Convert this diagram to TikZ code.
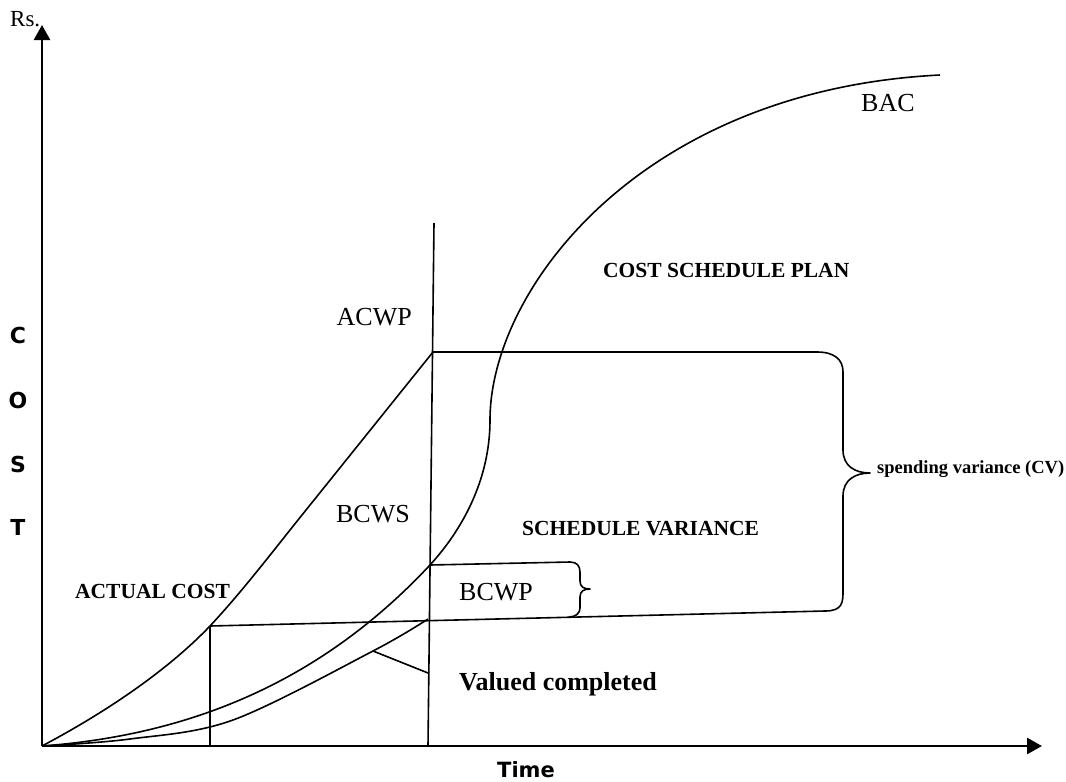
\documentclass[tikz,border=0pt]{standalone}
\usepackage{fontspec}
\setmainfont{Liberation Serif}
\newfontfamily\axfont{DejaVu Sans}
\usetikzlibrary{arrows.meta}
\begin{document}
\begin{tikzpicture}[x=1pt,y=-1pt, line join=round,
  curve/.style={line width=1.6pt},
  axisline/.style={line width=2.6pt, -{Triangle[length=15pt,width=16pt]}},
  lbl/.style={inner sep=0pt, font=\fontsize{26}{30}\selectfont},
  blbl/.style={inner sep=0pt, font=\fontsize{21.5}{25}\selectfont\bfseries},
  axlbl/.style={inner sep=0pt, font=\axfont\bfseries\fontsize{22}{26}\selectfont}]
\useasboundingbox (0,0) rectangle (1066,782);
% axes
\coordinate (O) at (42,746);
\coordinate (Ytip) at (42,25);
\coordinate (Xtip) at (1042,746);
\draw[axisline] (O) -- (Ytip);
\draw[axisline] (O) -- (Xtip);
% key points
\coordinate (Apk) at (433,352);
\coordinate (Lc) at (210,626);
\coordinate (Lb) at (210,746);
\coordinate (Vt) at (434,223);
\coordinate (Vb) at (428,746);
\coordinate (Ws) at (430,565);
\coordinate (Wp) at (428,619);
\coordinate (Pa) at (373,651);
\coordinate (Pb) at (428,673);
\coordinate (Sm) at (490,420);
\coordinate (Se) at (940,75);
% actual cost curve (ACWP)
\draw[curve] (O) .. controls (110,710) and (170,668) .. (Lc) .. controls (240,594) and (270,555) .. (298,520) -- (Apk);
% BCWS / BAC S-curve
\draw[curve] (O) .. controls (205,734) and (330,672) .. (Ws) .. controls (462,530) and (490,480) .. (Sm) .. controls (490,290) and (640,90) .. (Se);
% BCWP curve
\draw[curve] plot[smooth, tension=0.55] coordinates {(42,746) (130,739) (233,720) (373,651) (428,619)};
% vertical lines
\draw[curve] (Vt) -- (Vb);
\draw[curve] (Lc) -- (Lb);
% bottom line, big brace, top line
\draw[curve] (Lc) -- (825,611) .. controls (843,611) and (843,602) .. (843,590) -- (843,496) .. controls (843,480) and (855,473) .. (870,473) .. controls (855,473) and (843,466) .. (843,450) -- (843,372) .. controls (843,360) and (835,352) .. (817,352) -- (Apk);
% small brace
\draw[curve] (Ws) -- (570,562) .. controls (577,562) and (580,566) .. (580,572) -- (580,581) .. controls (580,587) and (584,589) .. (590,589) .. controls (584,589) and (580,591) .. (580,597) -- (580,608) .. controls (580,613) and (576,617) .. (569,617);
% pointer
\draw[curve] (Pa) -- (Pb);
% labels
\node[inner sep=0pt, anchor=base west, font=\fontsize{23}{26}\selectfont] (rs) at (10,26) {Rs.};
\node[axlbl] (c1) at (18,335) {C};
\node[axlbl] (c2) at (18,400) {O};
\node[axlbl] (c3) at (18,464) {S};
\node[axlbl] (c4) at (18,527) {T};
\node[inner sep=0pt, font=\axfont\bfseries\fontsize{21}{24}\selectfont, anchor=base west] (time) at (497,777) {Time};
\node[lbl, anchor=base west] (bac) at (861,111) {BAC};
\node[lbl, anchor=base east] (acwp) at (412,325) {ACWP};
\node[lbl, anchor=base east] (bcws) at (410,522) {BCWS};
\node[lbl, anchor=base west] (bcwp) at (459,600) {BCWP};
\node[inner sep=0pt, anchor=base west, font=\fontsize{26}{30}\selectfont\bfseries] (vc) at (459,690) {Valued completed};
\node[blbl, anchor=base west] (csp) at (603,277) {COST SCHEDULE PLAN};
\node[blbl, anchor=base west] (sv) at (522,535) {SCHEDULE VARIANCE};
\node[blbl, anchor=base west] (ac) at (75,598) {ACTUAL COST};
\node[inner sep=0pt, anchor=base west, font=\fontsize{18.5}{22}\selectfont\bfseries] (cv) at (877,473) {spending variance (CV)};
\end{tikzpicture}
\end{document}
